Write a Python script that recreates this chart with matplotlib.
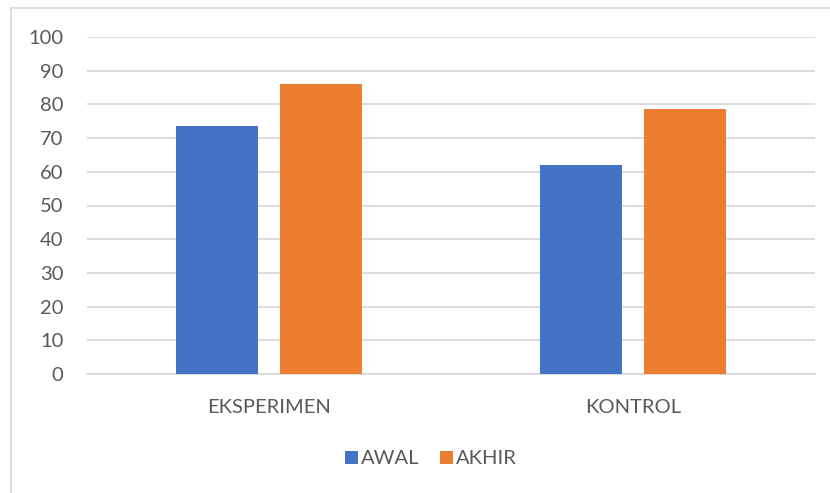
import numpy as np
import matplotlib.pyplot as plt
from matplotlib.lines import Line2D

categories = ['EKSPERIMEN', 'KONTROL']
series = ['AWAL', 'AKHIR']
awal = [73.6, 62.0]
akhir = [86.1, 78.5]
yticks = list(range(0, 101, 10))

colors = ['#4472C4', '#ED7D31']
text_color = '#595959'
grid_color = '#D9D9D9'

plt.rcParams['font.family'] = ['Lato', 'DejaVu Sans']

fig = plt.figure(figsize=(8.3, 4.93), dpi=100)
ax = fig.add_axes([87 / 830, 1 - 374 / 493, (815 - 87) / 830, (374 - 37) / 493])

x = np.arange(len(categories))
width = 0.225
offset = 0.143
ax.bar(x - offset, awal, width, color=colors[0], label=series[0], zorder=3)
ax.bar(x + offset, akhir, width, color=colors[1], label=series[1], zorder=3)

ax.set_xlim(-0.5, len(categories) - 0.5)
ax.set_ylim(0, 100)
ax.set_yticks(yticks)
ax.set_xticks(x)
ax.set_xticklabels(categories)
ax.yaxis.grid(True, color=grid_color, linewidth=1.3, zorder=0)
ax.tick_params(axis='both', length=0, labelsize=14.5, colors=text_color)
ax.tick_params(axis='y', pad=17)
ax.tick_params(axis='x', pad=18)
for side in ['top', 'right', 'left']:
    ax.spines[side].set_visible(False)
ax.spines['bottom'].set_color(grid_color)
ax.spines['bottom'].set_linewidth(1.3)

leg = fig.legend(loc='center', bbox_to_anchor=(431 / 830, 1 - 459 / 493), ncol=2,
                 frameon=False, fontsize=14.5, handlelength=0.65, handleheight=0.65,
                 handletextpad=0.15, columnspacing=1.0)
for t in leg.get_texts():
    t.set_color(text_color)

# chart area border (only top and left edges visible in the crop)
fig.add_artist(Line2D([10.5 / 830, 1], [1 - 7.5 / 493, 1 - 7.5 / 493],
                      transform=fig.transFigure, color=grid_color, linewidth=1.3))
fig.add_artist(Line2D([10.5 / 830, 10.5 / 830], [0, 1 - 7.5 / 493],
                      transform=fig.transFigure, color=grid_color, linewidth=1.3))

fig.savefig('out.png', dpi=100)
